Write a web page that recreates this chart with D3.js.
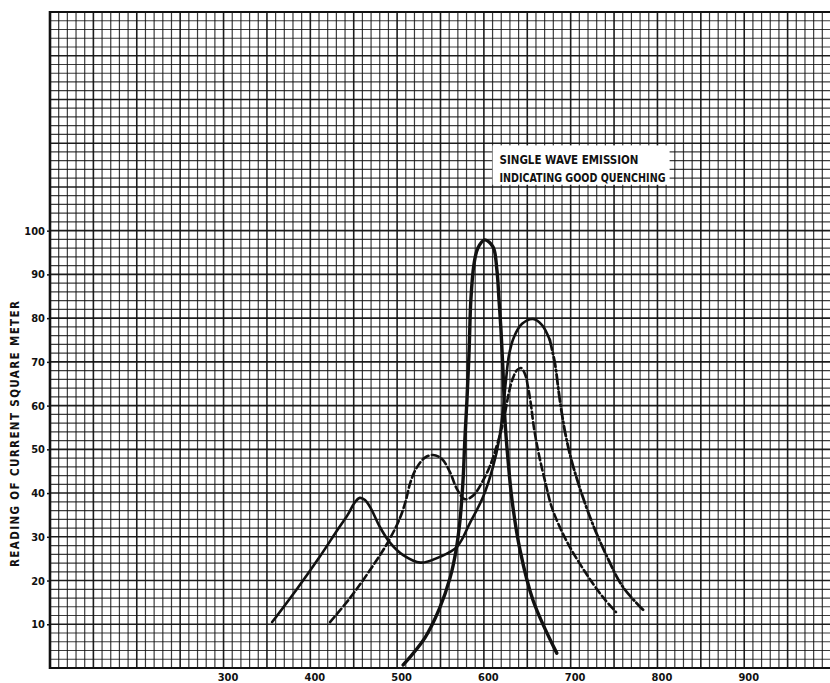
<!DOCTYPE html>
<html>
<head>
<meta charset="utf-8">
<script src="https://cdn.jsdelivr.net/npm/d3@7"></script>
<style>
  html, body { margin: 0; padding: 0; background: #fff; }
  svg { display: block; }
</style>
</head>
<body>
<svg id="chart" width="830" height="683"></svg>
<script>
// ---- data ----
const xTicks = [300, 400, 500, 600, 700, 800, 900];
const yTicks = [10, 20, 30, 40, 50, 60, 70, 80, 90, 100];

// tall sharp peak (thick solid)
const tallX = [507, 532, 549, 561, 568, 572.5, 576, 578, 580.5, 583, 585, 588.5, 593, 601, 610.5, 615, 617.4, 619.7, 622, 624.3, 627.8, 632.4, 641.6, 656.6, 684];
const tallY = [0.7, 6.9, 13.7, 20.6, 27, 33.8, 43, 52, 61.3, 72.7, 84.2, 92.2, 96, 97.9, 96.3, 91, 84.2, 77.3, 68.1, 56.7, 47.6, 38.4, 27, 15.5, 3.4];

// double-hump curve: solid left part, dash-dot right descent (peaks 39 and 80)
const solidX = [356, 385, 411, 431, 443, 451, 457, 463, 470, 480, 492, 507, 527, 549, 569, 584, 599, 610.5, 617.4, 622, 625.5, 629, 634.7, 644, 656.6, 667, 676, 682, 686, 690, 695, 703, 722.3, 742, 760.3, 783.4];
const solidY = [10.5, 18.2, 25.5, 31.5, 35, 37.8, 38.9, 38.4, 36.4, 32.3, 28.6, 25.8, 24.1, 25.4, 27.7, 33.2, 39.1, 46, 52.1, 59, 65.9, 71.6, 75.7, 78.7, 79.8, 78.4, 75, 69.5, 63.5, 58, 52.5, 46, 34.5, 25.4, 18.5, 13.3];

// dashed curve (peaks 48 and 68)
const dashX = [422.7, 445.7, 468.8, 489.5, 503.3, 510.2, 514.8, 521.7, 532.1, 541.3, 551.7, 560.9, 569, 578, 588, 598, 607, 615.1, 620.9, 625.5, 628.9, 633.5, 638.1, 642.7, 647.4, 650.8, 654.3, 657.7, 663.5, 671.6, 678.5, 694.6, 716.5, 737.2, 752.2];
const dashY = [10.5, 16, 22.4, 28.8, 34.3, 38.4, 42.1, 45.5, 48.1, 48.7, 47.8, 44.8, 40.9, 38.6, 39.5, 42.5, 46.2, 51, 55.1, 59.5, 63.1, 66.3, 68.1, 68.6, 67.2, 64.3, 60.1, 54.9, 48.7, 41.8, 36.6, 29.3, 22, 16.2, 12.8];

const yTitle = "READING OF CURRENT SQUARE METER";
const noteLines = ["SINGLE WAVE EMISSION", "INDICATING GOOD QUENCHING"];

// ---- drawing ----
const svg = d3.select("#chart");
const ink = "#111";
const x = d3.scaleLinear().domain([100, 1000]).range([50, 831]);
const y = d3.scaleLinear().domain([0, 150]).range([668, 12]);

svg.append("rect").attr("width", 830).attr("height", 683).attr("fill", "#fff");

// graph paper grid
const grid = svg.append("g");
grid.selectAll("line.v").data(d3.range(100, 1001, 10)).join("line")
  .attr("x1", d => x(d)).attr("x2", d => x(d))
  .attr("y1", y(0)).attr("y2", y(150))
  .attr("stroke", ink)
  .attr("stroke-width", d => d % 50 === 0 ? 1.6 : 1.2)
  .attr("stroke-opacity", d => d % 50 === 0 ? 0.95 : 0.82);
grid.selectAll("line.h").data(d3.range(0, 151, 2)).join("line")
  .attr("y1", d => y(d)).attr("y2", d => y(d))
  .attr("x1", x(100)).attr("x2", x(1000))
  .attr("stroke", ink)
  .attr("stroke-width", d => d % 10 === 0 ? 1.6 : 1.2)
  .attr("stroke-opacity", d => d % 10 === 0 ? 0.95 : 0.82);

// borders
svg.append("line").attr("x1", x(100)).attr("x2", x(100)).attr("y1", y(0) + 1).attr("y2", y(150) - 1)
  .attr("stroke", ink).attr("stroke-width", 2.6);
svg.append("line").attr("x1", x(100)).attr("x2", x(1000)).attr("y1", y(0)).attr("y2", y(0))
  .attr("stroke", ink).attr("stroke-width", 2.2);
svg.append("line").attr("x1", x(100)).attr("x2", x(1000)).attr("y1", y(150)).attr("y2", y(150))
  .attr("stroke", ink).attr("stroke-width", 2.2);

// annotation box
const note = svg.append("g");
note.append("rect")
  .attr("x", x(610)).attr("y", y(119.5))
  .attr("width", x(814) - x(610)).attr("height", y(110.5) - y(119.5))
  .attr("fill", "#fff");
note.selectAll("text").data(noteLines).join("text")
  .attr("x", x(618))
  .attr("y", (d, i) => y(115.2) + i * 18)
  .attr("textLength", (d, i) => i === 0 ? 139 : 166)
  .attr("lengthAdjust", "spacingAndGlyphs")
  .attr("font-family", "'DejaVu Sans Condensed', 'DejaVu Sans', sans-serif")
  .attr("font-weight", "bold").attr("font-size", 12)
  .attr("fill", ink)
  .text(d => d);

// axes
const fontFam = "'DejaVu Sans Condensed', 'DejaVu Sans', sans-serif";
const yAxis = svg.append("g").attr("transform", `translate(${x(100)},0)`)
  .call(d3.axisLeft(y).tickValues(yTicks).tickSize(3).tickPadding(2));
yAxis.select(".domain").remove();
yAxis.selectAll("line").attr("stroke", ink).attr("stroke-width", 1.5);
yAxis.selectAll("text").attr("font-family", fontFam).attr("font-weight", "bold")
  .attr("font-size", 11).attr("fill", ink);

const xAxis = svg.append("g").attr("transform", `translate(0,${y(0)})`)
  .call(d3.axisBottom(x).tickValues(xTicks).tickSize(0).tickPadding(5));
xAxis.select(".domain").remove();
xAxis.selectAll("text").attr("dx", 4).attr("font-family", fontFam).attr("font-weight", "bold")
  .attr("font-size", 11).attr("fill", ink);

svg.append("text")
  .attr("transform", `translate(19, ${y(53.5)}) rotate(-90)`)
  .attr("text-anchor", "middle")
  .attr("textLength", 266).attr("lengthAdjust", "spacing")
  .attr("font-family", fontFam).attr("font-weight", "bold").attr("font-size", 11.5)
  .attr("fill", ink)
  .text(yTitle);

// curves
const line = d3.line().x(d => x(d[0])).y(d => y(d[1])).curve(d3.curveCatmullRom.alpha(0.5));
const pts = (xs, ys) => xs.map((v, i) => [v, ys[i]]);

const solidPts = pts(solidX, solidY);
const peakIdx = solidY.indexOf(d3.max(solidY));
const curves = svg.append("g").attr("fill", "none").attr("stroke", ink).attr("stroke-linecap", "round");

curves.append("path").attr("d", line(pts(dashX, dashY)))
  .attr("stroke-width", 2.6).attr("stroke-dasharray", "7,3.5");
curves.append("path").attr("d", line(solidPts.slice(0, peakIdx + 3)))
  .attr("stroke-width", 2.6);
curves.append("path").attr("d", line(solidPts.slice(peakIdx + 2)))
  .attr("stroke-width", 2.8).attr("stroke-dasharray", "10,3,1.5,3");
curves.append("path").attr("d", line(pts(tallX, tallY)))
  .attr("stroke-width", 3.4);
</script>
</body>
</html>
